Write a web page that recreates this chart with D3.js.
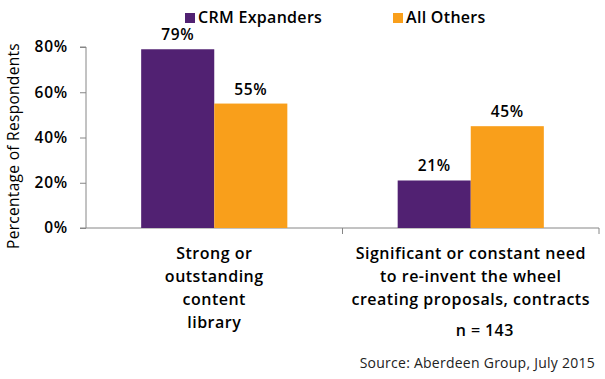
<!DOCTYPE html>
<html>
<head>
<meta charset="utf-8">
<script src="https://cdn.jsdelivr.net/npm/d3@7"></script>
<style>
  body { margin: 0; background: #fff; }
  svg { display: block; font-family: "Open Sans", Lato, sans-serif; }
  .axis path, .axis line { stroke: #868686; }
  .heavy { font-weight: 600; }
</style>
</head>
<body>
<div id="chart"></div>
<script>
// data
const categories = [
  ["Strong or", "outstanding", "content", "library"],
  ["Significant or constant need", "to re-invent the wheel", "creating proposals, contracts"]
];
const seriesNames = ["CRM Expanders", "All Others"];
const crmExpanders = [0.79, 0.21];
const allOthers = [0.55, 0.45];
const yTicks = [0, 0.2, 0.4, 0.6, 0.8];

const width = 605,
  height = 379;
const margin = { top: 47, right: 6, bottom: 151, left: 86 };

const colors = d3.scaleOrdinal().domain(seriesNames).range(["#512172", "#f99f1b"]);

const svg = d3
  .select("#chart")
  .append("svg")
  .attr("width", width)
  .attr("height", height);

const x0 = d3
  .scaleBand()
  .domain(d3.range(categories.length))
  .range([margin.left, width - margin.right])
  .padding(0);

const x1 = d3
  .scaleBand()
  .domain(seriesNames)
  .range([0, x0.bandwidth()])
  .paddingInner(0)
  .paddingOuter(0.755);

const y = d3
  .scaleLinear()
  .domain([0, 0.8])
  .range([height - margin.bottom, margin.top]);

// y axis
const yAxis = svg
  .append("g")
  .attr("class", "axis")
  .attr("transform", `translate(${margin.left},0)`)
  .call(d3.axisLeft(y).tickValues(yTicks).tickFormat(d3.format(".0%")).tickSize(6).tickPadding(12));
yAxis
  .selectAll("text")
  .attr("class", "heavy")
  .attr("font-size", "15.5px")
  .attr("letter-spacing", "0.8px")
  .attr("fill", "#000")
  .attr("font-family", "Open Sans");
yAxis.select(".domain").attr("d", `M-6,${y(0.8)}H0V${y(0)}H-6`);

// x axis with tick marks between groups
const xAxis = svg
  .append("g")
  .attr("class", "axis")
  .attr("transform", `translate(0,${y(0)})`);
xAxis
  .append("line")
  .attr("x1", x0.range()[0])
  .attr("x2", x0.range()[1])
  .attr("y1", 0)
  .attr("y2", 0);
xAxis
  .selectAll("line.tick")
  .data(d3.range(categories.length))
  .join("line")
  .attr("class", "tick")
  .attr("x1", (d) => x0(d) + x0.bandwidth())
  .attr("x2", (d) => x0(d) + x0.bandwidth())
  .attr("y1", 0)
  .attr("y2", 6);

// bars
const groups = svg
  .selectAll("g.group")
  .data(categories.map((c, i) => i))
  .join("g")
  .attr("class", "group")
  .attr("transform", (i) => `translate(${x0(i)},0)`);

const barData = (i) => [
  { name: seriesNames[0], value: crmExpanders[i] },
  { name: seriesNames[1], value: allOthers[i] }
];

groups
  .selectAll("rect")
  .data(barData)
  .join("rect")
  .attr("x", (d) => x1(d.name))
  .attr("width", x1.bandwidth())
  .attr("y", (d) => y(d.value))
  .attr("height", (d) => y(0) - y(d.value))
  .attr("fill", (d) => colors(d.name));

groups
  .selectAll("text.value")
  .data(barData)
  .join("text")
  .attr("class", "value heavy")
  .attr("x", (d) => x1(d.name) + x1.bandwidth() / 2)
  .attr("y", (d) => y(d.value) - 9)
  .attr("text-anchor", "middle")
  .attr("font-size", "15.5px")
  .attr("letter-spacing", "0.6px")
  .text((d) => d3.format(".0%")(d.value));

// category labels
groups
  .append("text")
  .attr("class", "cat heavy")
  .attr("text-anchor", "middle")
  .attr("font-size", "16px")
  .attr("letter-spacing", "0.5px")
  .selectAll("tspan")
  .data((i) => categories[i])
  .join("tspan")
  .attr("x", x0.bandwidth() / 2)
  .attr("y", (d, j) => y(0) + 31 + j * 23)
  .text((d) => d);

// y axis title
svg
  .append("text")
  .attr("transform", `translate(19,146) rotate(-90)`)
  .attr("text-anchor", "middle")
  .attr("font-size", "15.5px")
  .attr("letter-spacing", "0.3px")
  .text("Percentage of Respondents");

// legend
const legend = svg
  .selectAll("g.legend")
  .data(seriesNames)
  .join("g")
  .attr("class", "legend")
  .attr("transform", (d, i) => `translate(${[185, 393][i]},13)`);
legend
  .append("rect")
  .attr("width", 10)
  .attr("height", 10)
  .attr("fill", (d) => colors(d));
legend
  .append("text")
  .attr("class", "heavy")
  .attr("x", 13)
  .attr("y", 10)
  .attr("font-size", "16px")
  .attr("letter-spacing", "0.3px")
  .text((d) => d);

// notes
svg
  .append("text")
  .attr("class", "heavy")
  .attr("x", x0(1) + x0.bandwidth() / 2 + 14)
  .attr("y", 336)
  .attr("text-anchor", "middle")
  .attr("font-size", "16px")
  .attr("letter-spacing", "0.4px")
  .text("n = 143");

svg
  .append("text")
  .attr("x", 595)
  .attr("y", 368)
  .attr("text-anchor", "end")
  .attr("font-size", "14px")
  .attr("letter-spacing", "0.25px")
  .attr("fill", "#222")
  .text("Source: Aberdeen Group, July 2015");
</script>
</body>
</html>
